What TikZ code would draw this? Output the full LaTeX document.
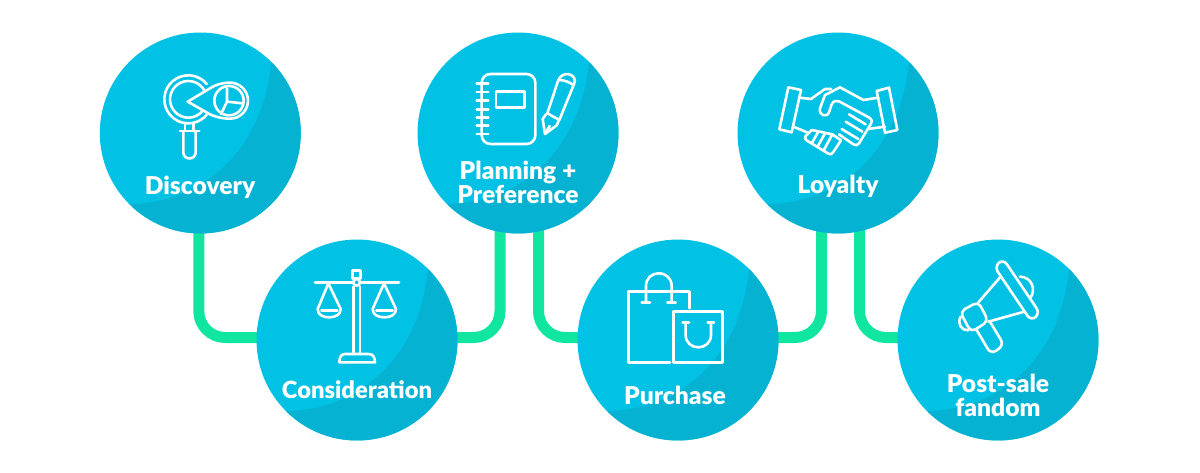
\documentclass[tikz,border=0pt]{standalone}
\usepackage{fontspec}
\setmainfont{Lato Black}
\usetikzlibrary{calc}
\pgfdeclarelayer{bg}
\pgfsetlayers{bg,main}
\definecolor{bubblelight}{HTML}{01C1E4}
\definecolor{bubbledark}{HTML}{05B2D1}
\definecolor{linkgreen}{HTML}{10E6A0}
\tikzset{
  bubble/.style={circle,inner sep=0pt,minimum size=4.02cm,fill=bubblelight,
    path picture={\begin{scope}[shift={(path picture bounding box.center)}]
      \fill[bubbledark] (71,-70) .. controls (62,20) and (0,70) .. (-70,71) -- (-70,120) -- (120,120) -- (120,-70) -- cycle;
    \end{scope}}},
  link/.style={draw=linkgreen,line width=0.22cm,rounded corners=15pt},
  caption/.style={text=white,font=\fontsize{14}{13.6}\selectfont,align=center,inner sep=0pt},
  icon/.style={draw=white,line width=0.052cm,line join=round,line cap=round},
}
\begin{document}
\begin{tikzpicture}[x=0.02cm,y=-0.02cm]
\useasboundingbox (0,0) rectangle (1200,473);
\node[bubble] (discovery) at (200.3,133) {};
\node[bubble] (consideration) at (357,340) {};
\node[bubble] (planning) at (518,133) {};
\node[bubble] (purchase) at (678,340) {};
\node[bubble] (loyalty) at (838,133) {};
\node[bubble] (fandom) at (998,340) {};
\begin{pgfonlayer}{bg}
\draw[link] ([shift={(-1.5,0)}]discovery.center) |- ([shift={(0,-2.5)}]consideration.center);
\draw[link] ([shift={(-18,0)}]planning.center) |- ([shift={(0,-2.5)}]consideration.center);
\draw[link] ([shift={(20.5,0)}]planning.center) |- ([shift={(0,-2.5)}]purchase.center);
\draw[link] ([shift={(-16.5,0)}]loyalty.center) |- ([shift={(0,-2.5)}]purchase.center);
\draw[link] ([shift={(21.5,0)}]loyalty.center) |- ([shift={(0,-2.5)}]fandom.center);
\end{pgfonlayer}
\node[caption] (t1) at (200,187) {Discovery};
\node[caption,font=\fontsize{13.5}{13.6}\selectfont] (t2) at (357,390) {Consideration};
\node[caption] (t3) at (518,182) {Planning +\\Preference};
\node[caption] (t4) at (675,395) {Purchase};
\node[caption] (t5) at (838,186) {Loyalty};
\node[caption] (t6) at (998,395) {Post-sale\\fandom};
% magnifier
\begin{scope}[shift={(155,70)},scale=1/3,icon]
\draw (100,88)+(-40:72) arc[start angle=-40,end angle=-320,radius=72];
\draw (100,88)+(-25:55) arc[start angle=-25,end angle=-323,radius=55];
\draw (98,95) -- (165,55) .. controls (180,45) and (200,38) .. (225,38) arc[start angle=-90,end angle=90,radius=54] .. controls (200,146) and (180,140) .. (165,133) -- cycle;
\draw (222,92) circle[radius=44];
\draw (216,55) -- (216,95) -- (262,100) (216,95) -- (198,132);
\draw (75,183) -- (133,183);
\draw (90,162) -- (90,183) (116,162) -- (116,183);
\draw (85,183) -- (85,247) arc[start angle=180,end angle=0,radius=18.5] -- (122,183);
\end{scope}
% scales
\begin{scope}[shift={(250,230)},scale=1/3,icon]
\draw (195,157) -- (447,157);
\draw (310,170) -- (310,372) (330,170) -- (330,372);
\draw (308,122) rectangle (332,145);
\draw[fill=bubblelight] (320,157) circle[radius=10];
\draw (268,397) -- (375,397) .. controls (375,380) and (368,372) .. (355,372) -- (285,372) .. controls (275,372) and (268,380) .. (268,397);
\draw (235,160) -- (203,237) .. controls (203,255) and (220,262) .. (237,262) .. controls (255,262) and (272,255) .. (272,237) -- cycle;
\draw (214,242) -- (262,242);
\draw (402,160) -- (368,237) .. controls (368,255) and (385,262) .. (403,262) .. controls (421,262) and (438,255) .. (438,237) -- cycle;
\draw (379,242) -- (428,242);
\end{scope}
% notebook and pen
\begin{scope}[shift={(410,20)},scale=1/3,icon]
\draw[rounded corners=5pt] (215,162) rectangle (376,372);
\foreach \yy in {190,216,242,268,292,316,342} \draw (200,\yy) -- (235,\yy);
\draw (258,215) rectangle (343,262);
\draw (412,280) -- (445,180) .. controls (452,165) and (465,160) .. (478,163) .. controls (492,167) and (497,178) .. (493,190) -- (448,300) -- cycle;
\draw (447,180) .. controls (462,180) and (478,186) .. (490,195);
\draw (408,283) -- (398,297) -- (405,342) -- (440,316) -- (446,302);
\draw (405,342) -- (419,318);
\end{scope}
% bags
\begin{scope}[shift={(570,230)},scale=1/3,icon]
\draw (300,397) -- (175,397) -- (175,185) -- (358,185) -- (358,235);
\draw (228,217) -- (228,168) .. controls (228,145) and (245,130) .. (266,130) .. controls (288,130) and (305,145) .. (305,168) -- (305,217);
\draw (215,217) -- (240,217) (292,217) -- (317,217);
\draw (310,245) rectangle (457,397);
\draw (347,278) -- (347,315) .. controls (347,338) and (365,352) .. (385,352) .. controls (405,352) and (423,338) .. (423,315) -- (423,278);
\draw (338,278) -- (357,278) (413,278) -- (432,278);
\end{scope}
% handshake
\begin{scope}[shift={(775,75)},scale=1/3,icon]
\draw (40,37) -- (78,45) -- (50,172) -- (13,163) -- cycle;
\draw (305,48) -- (342,38) -- (367,165) -- (330,173) -- cycle;
\draw (72,68) -- (108,72) -- (150,42) -- (168,42);
\draw (310,68) -- (265,75) -- (195,37) -- (150,60) -- (135,100) .. controls (130,120) and (155,130) .. (162,112) -- (170,88) .. controls (175,78) and (185,75) .. (192,79) -- (283,128) .. controls (292,135) and (292,140) .. (288,146) -- (252,205) .. controls (248,212) and (242,212) .. (235,208) -- (192,178);
\draw (222,118) -- (272,148) (212,140) -- (262,170) (200,162) -- (250,192);
\draw (330,155) -- (280,162);
\draw (55,155) -- (96,172);
\draw (110,165) -- (92,183) .. controls (88,190) and (90,192) .. (96,197) -- (160,236) .. controls (166,240) and (170,238) .. (174,232) -- (198,196) -- (172,178) -- (110,165);
\draw (130,170) -- (110,205) (150,175) -- (127,216) (172,178) -- (146,226);
\end{scope}
% megaphone
\begin{scope}[shift={(955,255)},scale=1/3,icon]
\draw[rounded corners=3.5pt] (118,35) -- (145,12) -- (255,175) -- (228,198) -- cycle;
\draw (137,65) -- (70,142) (208,170) -- (100,200);
\draw[rounded corners=3pt] (15,170) -- (70,140) -- (100,198) -- (48,232) -- cycle;
\draw (17,185) .. controls (5,205) and (20,228) .. (40,226);
\draw (195,65) .. controls (230,65) and (245,105) .. (225,130);
\draw[rounded corners=3.5pt] (65,225) -- (108,298) -- (147,270) -- (105,200);
\end{scope}
\end{tikzpicture}
\end{document}
